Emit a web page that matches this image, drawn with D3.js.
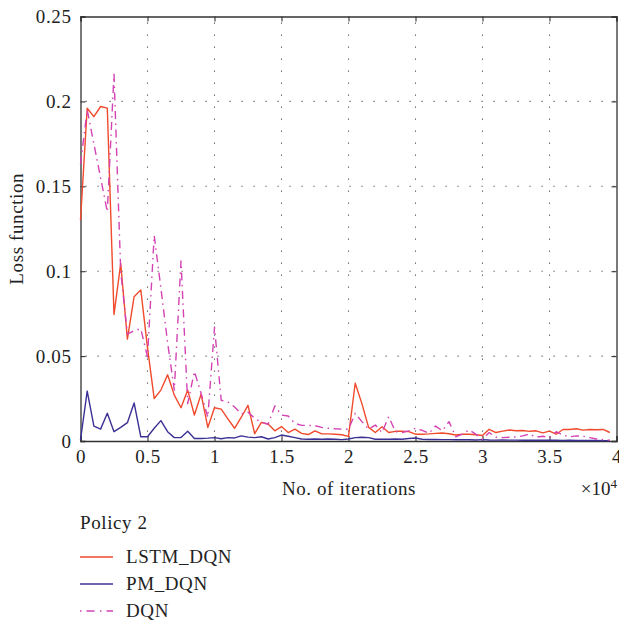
<!DOCTYPE html>
<html>
<head>
<meta charset="utf-8">
<script src="https://cdn.jsdelivr.net/npm/d3@7"></script>
<style>
  body { margin: 0; background: #fff; }
  svg { font-family: "Liberation Serif", "DejaVu Serif", serif; }
</style>
</head>
<body>
<svg width="619" height="620"></svg>
<script>
// iterations (x axis shown in units of 10^4)
var iterations = [0, 500, 1000, 1500, 2000, 2500, 3000, 3500, 4000, 4500,
  5000, 5500, 6000, 6500, 7000, 7500, 8000, 8500, 9000, 9500,
  10000, 10500, 11000, 11500, 12000, 12500, 13000, 13500, 14000, 14500,
  15000, 15500, 16000, 16500, 17000, 17500, 18000, 18500, 19000, 19500,
  20000, 20500, 21000, 21500, 22000, 22500, 23000, 23500, 24000, 24500,
  25000, 25500, 26000, 26500, 27000, 27500, 28000, 28500, 29000, 29500,
  30000, 30500, 31000, 31500, 32000, 32500, 33000, 33500, 34000, 34500,
  35000, 35500, 36000, 36500, 37000, 37500, 38000, 38500, 39000, 39500];

var lstmDqn = [0.130, 0.196, 0.191, 0.197, 0.196, 0.0745, 0.1045, 0.060, 0.085, 0.089,
  0.055, 0.025, 0.030, 0.039, 0.027, 0.0196, 0.030, 0.0153, 0.0276, 0.008,
  0.0196, 0.0188, 0.013, 0.0075, 0.014, 0.021, 0.0043, 0.011, 0.010, 0.006,
  0.0085, 0.005, 0.007, 0.0045, 0.0038, 0.006, 0.0042, 0.0042, 0.004, 0.0037,
  0.0027, 0.034, 0.022, 0.008, 0.005, 0.0084, 0.005, 0.0057, 0.0057, 0.0055,
  0.004, 0.004, 0.0042, 0.0045, 0.0047, 0.0043, 0.0035, 0.004, 0.004, 0.0037,
  0.0032, 0.0069, 0.005, 0.0058, 0.0065, 0.006, 0.0062, 0.0057, 0.006, 0.0048,
  0.0058, 0.004, 0.0068, 0.0068, 0.0072, 0.0064, 0.0068, 0.0066, 0.0068, 0.005];

var pmDqn = [0.0006, 0.0294, 0.0088, 0.007, 0.0163, 0.0055, 0.008, 0.0108, 0.0224, 0.0025,
  0.0025, 0.0075, 0.012, 0.0055, 0.002, 0.002, 0.0057, 0.0015, 0.0015, 0.0017,
  0.002, 0.0013, 0.002, 0.0018, 0.003, 0.0023, 0.002, 0.0025, 0.0012, 0.002,
  0.0035, 0.0028, 0.002, 0.0012, 0.001, 0.0012, 0.001, 0.0012, 0.001, 0.0008,
  0.0012, 0.002, 0.0022, 0.002, 0.001, 0.001, 0.001, 0.0012, 0.001, 0.0015,
  0.0018, 0.001, 0.0009, 0.0009, 0.0008, 0.0008, 0.0007, 0.0008, 0.0007, 0.0006,
  0.0008, 0.0006, 0.0005, 0.0006, 0.0005, 0.0005, 0.0004, 0.0005, 0.0004, 0.0005,
  0.0004, 0.0004, 0.0003, 0.0004, 0.0003, 0.0003, 0.0003, 0.0003, 0.0002, 0.0002];

var dqn = [0.163, 0.195, 0.175, 0.155, 0.135, 0.216, 0.100, 0.063, 0.065, 0.066,
  0.0496, 0.121, 0.090, 0.058, 0.030, 0.106, 0.022, 0.041, 0.028, 0.014,
  0.067, 0.024, 0.023, 0.020, 0.016, 0.017, 0.0134, 0.011, 0.0098, 0.0206,
  0.0153, 0.0147, 0.0104, 0.0092, 0.0092, 0.009, 0.008, 0.0075, 0.0072, 0.007,
  0.0069, 0.0163, 0.0114, 0.007, 0.0094, 0.005, 0.0143, 0.0055, 0.005, 0.006,
  0.0075, 0.0063, 0.0045, 0.0088, 0.006, 0.0114, 0.0025, 0.004, 0.0065, 0.004,
  0.001, 0.005, 0.0022, 0.002, 0.0022, 0.0024, 0.003, 0.0041, 0.0022, 0.0028,
  0.002, 0.0055, 0.0035, 0.0025, 0.003, 0.0028, 0.002, 0.0012, 0.0008, 0.0005];

var xTicks = [0, 0.5, 1, 1.5, 2, 2.5, 3, 3.5, 4];
var yTicks = [0, 0.05, 0.1, 0.15, 0.2, 0.25];

var seriesNames = ["LSTM_DQN", "PM_DQN", "DQN"];
var seriesColors = ["#f04a2c", "#3b3194", "#d443b4"];
var seriesDash = [null, null, "8,4.5,1.5,4.5"];
var seriesData = [lstmDqn, pmDqn, dqn];

var svg = d3.select("svg"),
    mLeft = 80.5, mRight = 616.5, mTop = 16.5, mBottom = 441;

var x = d3.scaleLinear().domain([0, 4]).range([mLeft, mRight]);
var y = d3.scaleLinear().domain([0, 0.25]).range([mBottom, mTop]);

var fmt = function (d) { return String(d); };
var fontSize = 19, spacing = "0.6px";

// grid
var grid = svg.append("g");
grid.selectAll(".vg").data(xTicks.slice(1, -1)).enter().append("line")
    .attr("x1", function (d) { return x(d); }).attr("x2", function (d) { return x(d); })
    .attr("y1", mTop).attr("y2", mBottom)
    .attr("stroke", "#555").attr("stroke-width", 1.1).attr("stroke-dasharray", "1.2,10.8")
    .attr("stroke-dashoffset", -6);
grid.selectAll(".hg").data(yTicks.slice(1, -1)).enter().append("line")
    .attr("x1", mLeft).attr("x2", mRight)
    .attr("y1", function (d) { return y(d); }).attr("y2", function (d) { return y(d); })
    .attr("stroke", "#555").attr("stroke-width", 1.1).attr("stroke-dasharray", "1.2,10.8")
    .attr("stroke-dashoffset", -5);

// axes
var xAxis = svg.append("g").attr("transform", "translate(0," + mBottom + ")")
    .call(d3.axisBottom(x).tickValues(xTicks).tickSize(-5).tickPadding(9).tickFormat(fmt));
var xAxisTop = svg.append("g").attr("transform", "translate(0," + mTop + ")")
    .call(d3.axisTop(x).tickValues(xTicks).tickSize(-5).tickFormat(""));
var yAxis = svg.append("g").attr("transform", "translate(" + mLeft + ",0)")
    .call(d3.axisLeft(y).tickValues(yTicks).tickSize(-5).tickPadding(9).tickFormat(fmt));
var yAxisRight = svg.append("g").attr("transform", "translate(" + mRight + ",0)")
    .call(d3.axisRight(y).tickValues(yTicks).tickSize(-5).tickFormat(""));

[xAxis, xAxisTop, yAxis, yAxisRight].forEach(function (a) {
  a.select(".domain").attr("stroke", "#333").attr("stroke-width", 1.3);
  a.selectAll(".tick line").attr("stroke", "#333").attr("stroke-width", 1.1);
  a.selectAll("text").attr("font-family", "Liberation Serif, DejaVu Serif, serif")
      .attr("font-size", fontSize).attr("letter-spacing", spacing).attr("fill", "#222");
});

// lines
var line = d3.line()
    .x(function (d, i) { return x(iterations[i] / 10000); })
    .y(function (d) { return y(d); });

var order = [1, 0, 2];
order.forEach(function (k) {
  svg.append("path")
      .datum(seriesData[k])
      .attr("fill", "none")
      .attr("stroke", seriesColors[k])
      .attr("stroke-width", 1.4)
      .attr("stroke-linejoin", "round")
      .attr("stroke-dasharray", seriesDash[k])
      .attr("d", line);
});

// labels
svg.append("text")
    .attr("x", 349).attr("y", 495)
    .attr("text-anchor", "middle").attr("font-size", fontSize)
    .attr("letter-spacing", spacing).attr("fill", "#222")
    .text("No. of iterations");

var mult = svg.append("text")
    .attr("x", 617).attr("y", 495).attr("text-anchor", "end")
    .attr("font-size", fontSize).attr("fill", "#222");
mult.append("tspan").text("\u00d710");
mult.append("tspan").attr("dy", -7).attr("font-size", 13).text("4");

svg.append("text")
    .attr("transform", "translate(23," + (mTop + mBottom) / 2 + ") rotate(-90)")
    .attr("text-anchor", "middle").attr("font-size", fontSize)
    .attr("letter-spacing", spacing).attr("fill", "#222")
    .text("Loss function");

// legend
svg.append("text")
    .attr("x", 80).attr("y", 529).attr("font-size", fontSize)
    .attr("letter-spacing", spacing).attr("fill", "#222")
    .text("Policy 2");

var legend = svg.selectAll(".legend").data(seriesNames).enter().append("g")
    .attr("transform", function (d, i) { return "translate(80," + (557 + i * 27) + ")"; });
legend.append("line")
    .attr("x1", 0).attr("x2", 33).attr("y1", 0).attr("y2", 0)
    .attr("stroke", function (d, i) { return seriesColors[i]; })
    .attr("stroke-width", 1.3)
    .attr("stroke-dasharray", function (d, i) { return seriesDash[i] ? "1.5,5,8,5.5" : null; });
legend.append("text")
    .attr("x", 46).attr("y", 6).attr("font-size", fontSize)
    .attr("letter-spacing", spacing).attr("fill", "#222")
    .text(function (d) { return d; });
</script>
</body>
</html>
